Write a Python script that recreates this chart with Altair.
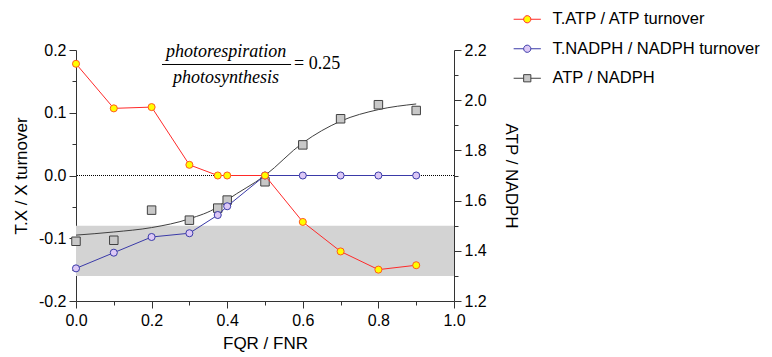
import altair as alt
import pandas as pd

# ---- data ----
fqr = [0.0, 0.1, 0.2, 0.3, 0.375, 0.4, 0.5, 0.6, 0.7, 0.8, 0.9]
atp_turnover = [0.178, 0.107, 0.109, 0.017, 0.0, 0.0, 0.0, -0.074, -0.121, -0.150, -0.143]
nadph_turnover = [-0.148, -0.123, -0.098, -0.092, -0.063, -0.049, 0.0, 0.0, 0.0, 0.0, 0.0]
atp_nadph = [1.438, 1.442, 1.562, 1.522, 1.570, 1.602, 1.675, 1.822, 1.926, 1.982, 1.959]
fit_ratio = [1.4625, 1.475, 1.4925, 1.5275, 1.575, 1.6025, 1.70, 1.83, 1.9165, 1.9625, 1.985]

series = ["T.ATP / ATP turnover", "T.NADPH / NADPH turnover", "ATP / NADPH"]
fills = ["#FFFF00", "#DCC8F6", "#C8C8C8"]
strokes = ["#FF2A2A", "#3A3AA8", "#404040"]

band_x = [0.0, 1.0]
band_ratio = [1.3, 1.5]
zero_level = [0.0]

x_ticks = [0.0, 0.1, 0.2, 0.3, 0.4, 0.5, 0.6, 0.7, 0.8, 0.9, 1.0]
left_ticks = [-0.2, -0.15, -0.1, -0.05, 0.0, 0.05, 0.1, 0.15, 0.2]
right_ticks = [1.2, 1.3, 1.4, 1.5, 1.6, 1.7, 1.8, 1.9, 2.0, 2.1, 2.2]

numerator = "photorespiration"
denominator = "photosynthesis"
equals_text = "= 0.25"

# ---- tables ----
df = pd.DataFrame({"fqr": fqr, "atp": atp_turnover, "nadph": nadph_turnover,
                   "ratio": atp_nadph, "fit": fit_ratio})
band_df = pd.DataFrame({"x0": [band_x[0]], "x1": [band_x[1]],
                        "r0": [band_ratio[0]], "r1": [band_ratio[1]]})
zero_df = pd.DataFrame({"v": zero_level})
legend_df = pd.DataFrame({"series": series, "fqr": [0.0] * 3, "v": [0.0] * 3})
frac_df = pd.DataFrame({"fqr": [0.397], "v": [0.1896], "v2": [0.1477],
                        "x0": [0.2275], "x1": [0.569], "vl": [0.1769],
                        "xe": [0.577], "ve": [0.1705],
                        "num": [numerator], "den": [denominator], "eq": [equals_text]})

tick_major_x = "round(datum.value*10) % 2 == 0"
x_axis = alt.Axis(
    title="FQR / FNR", values=x_ticks, grid=False, labelFlush=False,
    labelExpr=f"{tick_major_x} ? format(datum.value, '.1f') : ''",
    tickSize={"condition": {"test": f"!({tick_major_x})", "value": 4}, "value": 7},
    labelPadding=4, titlePadding=7,
)
left_major = "round(datum.value*20) % 2 == 0"
left_axis = alt.Axis(
    title="T.X / X turnover", orient="left", values=left_ticks, grid=False, labelFlush=False,
    labelExpr=f"{left_major} ? ((datum.value < 0 ? '-' : '') + format(abs(datum.value), '.1f')) : ''",
    tickSize={"condition": {"test": f"!({left_major})", "value": 4}, "value": 7},
    labelPadding=3, titlePadding=8,
)
right_axis = alt.Axis(
    title="ATP / NADPH", orient="right", values=right_ticks, grid=False, labelFlush=False,
    labelExpr=f"{tick_major_x} ? format(datum.value, '.1f') : ''",
    tickSize={"condition": {"test": f"!({tick_major_x})", "value": 4}, "value": 7},
    labelPadding=3, titlePadding=15,
)

xs = alt.Scale(domain=[0, 1], nice=False, zero=False)
ls = alt.Scale(domain=[-0.2, 0.2], nice=False, zero=False)
rs = alt.Scale(domain=[1.2, 2.2], nice=False, zero=False)


def X(f):
    return alt.X(f, type="quantitative", scale=xs, axis=x_axis)


def YL(f):
    return alt.Y(f, type="quantitative", scale=ls, axis=left_axis)


def YR(f):
    return alt.Y(f, type="quantitative", scale=rs, axis=right_axis)


# ---- right-axis group ----
band = alt.Chart(band_df).mark_rect(color="#D3D3D3").encode(
    x=X("x0"), x2="x1", y=YR("r0"), y2="r1")
curve = alt.Chart(df).mark_line(color="#404040", strokeWidth=1, interpolate="monotone").encode(
    x=X("fqr"), y=YR("fit"))
squares = alt.Chart(df).mark_point(shape="square", filled=True, fill=fills[2], stroke=strokes[2],
                                   strokeWidth=1, size=72, opacity=1).encode(
    x=X("fqr"), y=YR("ratio"))
right_group = alt.layer(band, curve, squares)

# ---- left-axis group ----
zero = alt.Chart(zero_df).mark_rule(color="#000000", strokeDash=[1, 1], strokeWidth=1).encode(
    y=YL("v"))
nadph_line = alt.Chart(df).mark_line(color=strokes[1], strokeWidth=1).encode(x=X("fqr"), y=YL("nadph"))
atp_line = alt.Chart(df).mark_line(color=strokes[0], strokeWidth=1).encode(x=X("fqr"), y=YL("atp"))
nadph_pts = alt.Chart(df).mark_point(shape="circle", filled=True, fill=fills[1], stroke=strokes[1],
                                     strokeWidth=1, size=50, opacity=1).encode(x=X("fqr"), y=YL("nadph"))
atp_pts = alt.Chart(df).mark_point(shape="circle", filled=True, fill=fills[0], stroke="#FF5A1E",
                                   strokeWidth=1, size=50, opacity=1).encode(x=X("fqr"), y=YL("atp"))

num_t = alt.Chart(frac_df).mark_text(font="Liberation Serif", fontStyle="italic", fontSize=18,
                                     align="center", baseline="alphabetic", color="#000").encode(
    x=X("fqr"), y=YL("v"), text="num")
den_t = alt.Chart(frac_df).mark_text(font="Liberation Serif", fontStyle="italic", fontSize=18,
                                     align="center", baseline="alphabetic", color="#000").encode(
    x=X("fqr"), y=YL("v2"), text="den")
frac_line = alt.Chart(frac_df).mark_rule(color="#000", strokeWidth=1).encode(
    x=X("x0"), x2="x1", y=YL("vl"))
eq_t = alt.Chart(frac_df).mark_text(font="Liberation Serif", fontSize=18,
                                    align="left", baseline="alphabetic", color="#000").encode(
    x=X("xe"), y=YL("ve"), text="eq")

circle_path = "M-3.4,0H-0.9M0.9,0H3.4M-0.9,0A0.9,0.9 0 1,1 0.9,0A0.9,0.9 0 1,1 -0.9,0Z"
square_path = "M-3.4,0H-0.9M0.9,0H3.4M-0.9,-0.9H0.9V0.9H-0.9Z"
leg = alt.Legend(title=None, orient="none", legendX=443, legendY=-39, symbolSize=64,
                 symbolStrokeWidth=1, symbolOpacity=1, labelFont="Liberation Sans",
                 labelFontSize=16.5, labelColor="#000", labelOffset=17, rowPadding=12.5,
                 padding=0, labelLimit=0)
legend_layer = alt.Chart(legend_df).mark_point(filled=True, opacity=0).encode(
    x=X("fqr"), y=YL("v"),
    shape=alt.Shape("series:N", scale=alt.Scale(domain=series, range=[circle_path, circle_path, square_path]),
                    legend=leg, sort=series),
    fill=alt.Fill("series:N", scale=alt.Scale(domain=series, range=fills), legend=leg, sort=series),
    stroke=alt.Stroke("series:N", scale=alt.Scale(domain=series, range=strokes), legend=leg, sort=series),
)

left_group = alt.layer(zero, nadph_line, atp_line, nadph_pts, atp_pts,
                       frac_line, num_t, den_t, eq_t, legend_layer)

chart = alt.layer(right_group, left_group).resolve_scale(y="independent").properties(
    width=378, height=251,
    autosize=alt.AutoSizeParams(type="none"),
    padding={"left": 68, "top": 42, "right": 310, "bottom": 55},
).configure_view(stroke=None).configure_axis(
    labelFont="Liberation Sans", labelFontSize=16, labelColor="#000",
    titleFont="Liberation Sans", titleFontSize=17, titleFontWeight="normal", titleColor="#000",
    domainColor="#333", tickColor="#333", domainWidth=1, tickWidth=1,
)

chart.save("out.html", embed_options={"renderer": "svg", "actions": False})
